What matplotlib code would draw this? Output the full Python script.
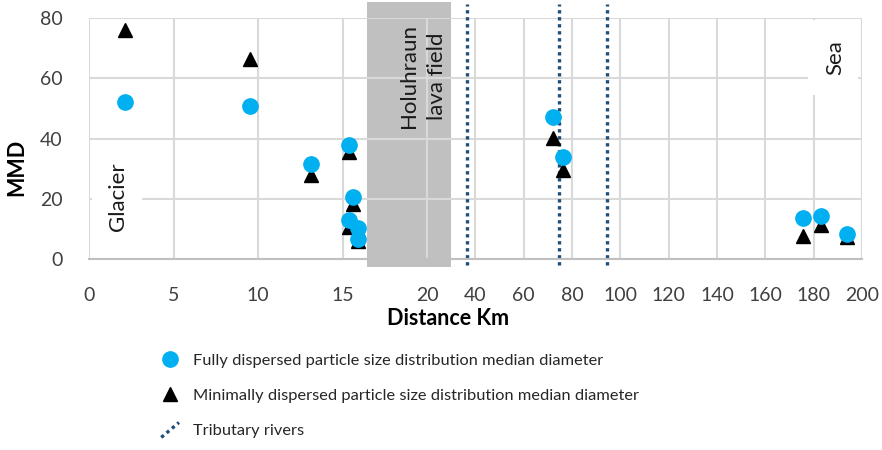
import matplotlib
matplotlib.use("Agg")
import matplotlib.pyplot as plt
import numpy as np
from matplotlib.patches import Rectangle
from matplotlib.lines import Line2D
from matplotlib.legend_handler import HandlerLine2D

plt.rcParams['font.family'] = ['Lato', 'DejaVu Sans']

# data
dist_full = [2.1, 9.5, 13.1, 15.4, 15.6, 15.4, 15.9, 15.9, 72.2, 76.3, 175.7, 183.2, 194.0]
mmd_full = [52.0, 50.7, 31.7, 37.7, 20.7, 13.0, 10.3, 6.7, 47.3, 34.0, 13.7, 14.3, 8.3]
dist_min = [2.1, 9.5, 13.1, 15.4, 15.6, 15.4, 15.9, 15.9, 72.2, 76.3, 175.7, 183.2, 194.0]
mmd_min = [76.0, 66.3, 28.0, 35.5, 18.3, 10.5, 8.0, 6.0, 40.3, 29.7, 7.7, 11.3, 7.3]
tributaries = [36.6, 74.7, 94.5]
lava_field = (16.45, 29.9)
xticks = [0, 5, 10, 15, 20, 40, 60, 80, 100, 120, 140, 160, 180, 200]
yticks = [0, 20, 40, 60, 80]

lbl_full = "Fully dispersed particle size distribution median diameter"
lbl_min = "Minimally dispersed particle size distribution median diameter"
lbl_trib = "Tributary rivers"


# broken x scale: 0-20 stretched, 20-200 compressed
def fwd(x):
    x = np.asarray(x, dtype=float)
    return np.where(x <= 20, x, 20 + (x - 20) / 7.0)


def inv(u):
    u = np.asarray(u, dtype=float)
    return np.where(u <= 20, u, 20 + (u - 20) * 7.0)


# legend handle drawn as a short diagonal dotted line (like the original)
class DiagHandler(HandlerLine2D):
    def create_artists(self, legend, orig_handle, xdescent, ydescent,
                       width, height, fontsize, trans):
        ln = Line2D([-xdescent + 0.05 * width, -xdescent + 0.95 * width],
                    [-ydescent - 0.25 * height, -ydescent + 1.05 * height])
        self.update_prop(ln, orig_handle, legend)
        ln.set_transform(trans)
        return [ln]


fig = plt.figure(figsize=(8.82, 4.5), dpi=100)
ax = fig.add_axes([0.1009, 0.4244, 0.8764, 0.5356])
ax.set_xscale('function', functions=(fwd, inv))
ax.set_xlim(0, 200)
ax.set_ylim(0, 80)
ax.set_xticks(xticks)
ax.set_xticklabels([str(t) for t in xticks])
ax.set_yticks(yticks)
ax.tick_params(length=0, labelsize=14, colors='#404040')
ax.tick_params(axis='x', pad=20)
ax.tick_params(axis='y', pad=19)
ax.grid(True, color='#d9d9d9', lw=1.5)
ax.set_axisbelow(True)
for s in ['top', 'right', 'left']:
    ax.spines[s].set_visible(False)
ax.spines['bottom'].set_color('#bfbfbf')
ax.spines['bottom'].set_linewidth(1.5)

# lava field
ax.add_patch(Rectangle((lava_field[0], -2.8), lava_field[1] - lava_field[0], 88.0,
                       facecolor='#c0c0c0', edgecolor='none', zorder=0.2, clip_on=False))
ax.text(18.9, 60.8, "Holuhraun", rotation=90, ha='center', va='center',
        fontsize=16, color='#1a1a1a', zorder=3)
ax.text(24.1, 60.8, "lava field", rotation=90, ha='center', va='center',
        fontsize=16, color='#1a1a1a', zorder=3)

# glacier / sea labels
ax.add_patch(Rectangle((0.004, 0.017), 0.065, 0.477, transform=ax.transAxes,
                       facecolor='white', edgecolor='none', zorder=1.5))
ax.text(0.0375, 0.257, "Glacier", rotation=90, ha='center', va='center',
        fontsize=16, color='#1a1a1a', transform=ax.transAxes, zorder=3)
ax.add_patch(Rectangle((0.930, 0.680), 0.0647, 0.311, transform=ax.transAxes,
                       facecolor='white', edgecolor='none', zorder=1.5))
ax.text(0.965, 0.834, "Sea", rotation=90, ha='center', va='center',
        fontsize=16, color='#1a1a1a', transform=ax.transAxes, zorder=3)

# tributary rivers
for i, t in enumerate(tributaries):
    ax.plot([t, t], [-2, 84.5], color='#1f4e79', lw=2.4, ls=(0, (1, 1.1)),
            clip_on=False, zorder=2, label=lbl_trib if i == 0 else None)

ax.plot(dist_min, mmd_min, ls='none', marker='^', ms=9.5, color='black',
        zorder=4, label=lbl_min)
ax.plot(dist_full, mmd_full, ls='none', marker='o', ms=11, color='#00b0f0',
        zorder=5, label=lbl_full)

ax.set_ylabel("MMD", fontsize=15.5, fontweight='bold', color='black')
ax.yaxis.label.set_va('center')
ax.yaxis.set_label_coords((17 - 89) / 773, (259 - 167) / 241)
ax.set_xlabel("Distance Km", fontsize=15.5, fontweight='bold', color='black')
ax.xaxis.set_label_coords((448 - 89) / 773, (259 - 308) / 241)

h, l = ax.get_legend_handles_labels()
order = [2, 1, 0]
fig.legend([h[i] for i in order], [l[i] for i in order], loc='upper left',
           bbox_to_anchor=(0.165, 0.248), frameon=False, fontsize=11.8,
           handlelength=1.2, handletextpad=0.8, labelspacing=1.25,
           labelcolor='#262626', handler_map={h[0]: DiagHandler()})

fig.savefig("out.png", dpi=100)
